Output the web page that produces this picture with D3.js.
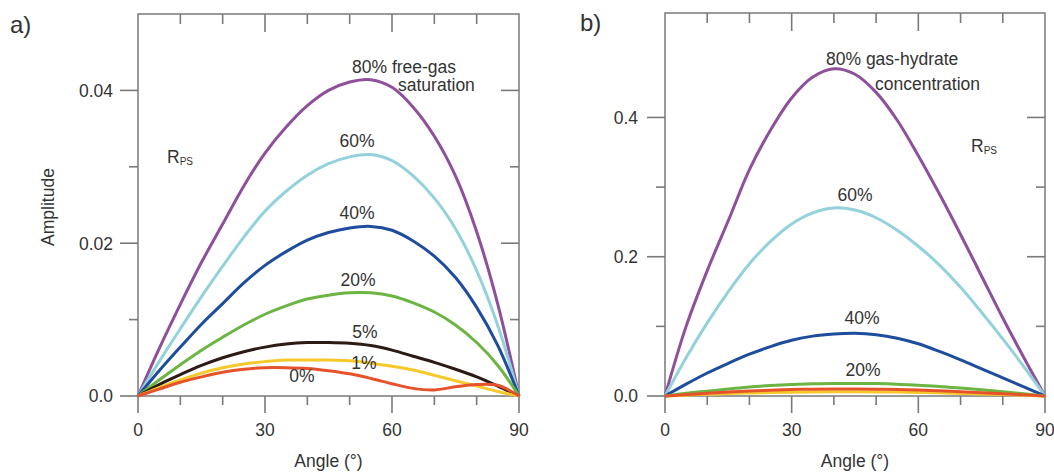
<!DOCTYPE html>
<html>
<head>
<meta charset="utf-8">
<script src="https://cdn.jsdelivr.net/npm/d3@7"></script>
<style>
  body { margin: 0; background: #fff; }
  text { font-family: "Liberation Sans", Arial, sans-serif; fill: #333; }
</style>
</head>
<body>
<svg id="chart" width="1054" height="474"></svg>
<script>
// angles (degrees) shared by all curves
const angles = [0, 5, 10, 15, 20, 25, 30, 35, 40, 45, 50, 55, 60, 65, 70, 75, 80, 85, 90];

// panel a: free-gas saturation
const gas80 = [0, 0.0062, 0.0120, 0.0175, 0.0225, 0.0275, 0.0318, 0.0352, 0.0380, 0.0400, 0.0411, 0.0414, 0.0404, 0.0378, 0.0340, 0.0288, 0.0215, 0.0120, 0];
const gas60 = [0, 0.0045, 0.0088, 0.0130, 0.0170, 0.0208, 0.0242, 0.0268, 0.0289, 0.0304, 0.0313, 0.0316, 0.0308, 0.0288, 0.0259, 0.0219, 0.0164, 0.0092, 0];
const gas40 = [0, 0.0033, 0.0064, 0.0094, 0.0121, 0.0148, 0.0171, 0.0189, 0.0204, 0.0214, 0.0220, 0.0222, 0.0217, 0.0203, 0.0183, 0.0155, 0.0116, 0.0066, 0];
const gas20 = [0, 0.0021, 0.0041, 0.0060, 0.0077, 0.0093, 0.0107, 0.0118, 0.0127, 0.0132, 0.0135, 0.0135, 0.0131, 0.0122, 0.0110, 0.0093, 0.0070, 0.0040, 0];
const gas5 = [0, 0.0015, 0.0028, 0.0040, 0.0050, 0.0058, 0.0064, 0.0068, 0.0070, 0.0070, 0.0069, 0.0066, 0.0060, 0.0052, 0.0044, 0.0035, 0.0025, 0.0013, 0];
const gas1 = [0, 0.0011, 0.0021, 0.0030, 0.0037, 0.0042, 0.0045, 0.0047, 0.0047, 0.0047, 0.0046, 0.0043, 0.0039, 0.0034, 0.0027, 0.0020, 0.0013, 0.0006, 0];
const gas0 = [0, 0.0009, 0.0018, 0.0025, 0.0031, 0.0035, 0.0037, 0.0037, 0.0036, 0.0033, 0.0029, 0.0023, 0.0016, 0.0010, 0.0008, 0.0012, 0.0015, 0.0014, 0];

// panel b: gas-hydrate concentration
const hyd80 = [0, 0.100, 0.180, 0.252, 0.325, 0.382, 0.428, 0.458, 0.470, 0.462, 0.436, 0.396, 0.345, 0.290, 0.232, 0.172, 0.112, 0.055, 0];
const hyd60 = [0, 0.055, 0.105, 0.150, 0.190, 0.222, 0.247, 0.263, 0.270, 0.267, 0.256, 0.238, 0.215, 0.188, 0.156, 0.120, 0.082, 0.042, 0];
const hyd40 = [0, 0.017, 0.033, 0.047, 0.060, 0.071, 0.080, 0.086, 0.089, 0.090, 0.088, 0.083, 0.075, 0.064, 0.052, 0.039, 0.026, 0.013, 0];
const hyd20 = [0, 0.004, 0.007, 0.010, 0.013, 0.015, 0.0165, 0.0175, 0.018, 0.018, 0.0178, 0.017, 0.0155, 0.0138, 0.0115, 0.009, 0.0062, 0.0032, 0];
const hyd5 = [0, 0.002, 0.004, 0.0058, 0.0072, 0.0084, 0.0093, 0.0098, 0.010, 0.010, 0.0098, 0.0093, 0.0085, 0.0075, 0.0062, 0.0048, 0.0033, 0.0017, 0];
const hyd1 = [0, 0.0012, 0.0024, 0.0035, 0.0043, 0.0050, 0.0055, 0.0058, 0.0060, 0.0060, 0.0059, 0.0056, 0.0051, 0.0045, 0.0037, 0.0029, 0.0020, 0.0010, 0];

const xTicks = [0, 30, 60, 90];
const xMinor = [10, 20, 40, 50, 70, 80];

const colors = {
  c80: "#8e4f9b", c60: "#93d2da", c40: "#1d4d9c", c20: "#6cb543",
  c5: "#2b1a16", c1: "#f6c92b", c0: "#e6532a"
};

const svg = d3.select("#chart");
const tickColor = "#7a7a7a";

// tick marks drawn from a scale; len is signed (which side of the axis line)
function tickMarks(g, scale, values, pos, len, horizontal) {
  values.forEach(v => {
    const p = scale(v);
    g.append("line")
      .attr("x1", horizontal ? p : pos)
      .attr("x2", horizontal ? p : pos + len)
      .attr("y1", horizontal ? pos : p)
      .attr("y2", horizontal ? pos + len : p)
      .attr("stroke", tickColor)
      .attr("stroke-width", 1.6);
  });
}

function panel(opt) {
  const g = svg.append("g");
  const x = d3.scaleLinear().domain([0, 90]).range([opt.left, opt.right]);
  const y = d3.scaleLinear().domain(opt.yDomain).range([opt.bottom, opt.top]);

  // frame
  g.append("rect")
    .attr("x", opt.left).attr("y", opt.top)
    .attr("width", opt.right - opt.left).attr("height", opt.bottom - opt.top)
    .attr("fill", "none").attr("stroke", tickColor).attr("stroke-width", 1.5);

  // bottom ticks (outward), top ticks (inward)
  tickMarks(g, x, xTicks, opt.bottom, 17, true);
  tickMarks(g, x, xMinor, opt.bottom, 9, true);
  tickMarks(g, x, xTicks.slice(1, 3), opt.top, 18, true);
  tickMarks(g, x, xMinor, opt.top, 10, true);
  // left ticks (outward), right ticks (inward)
  tickMarks(g, y, opt.yTicks, opt.left, -18, false);
  tickMarks(g, y, opt.yMinor, opt.left, -9, false);
  tickMarks(g, y, opt.yTicks.slice(1), opt.right, -18, false);
  tickMarks(g, y, opt.yMinor, opt.right, -9, false);

  g.selectAll(null).data(xTicks).enter().append("text")
    .attr("x", d => x(d)).attr("y", 436)
    .attr("text-anchor", "middle").attr("font-size", 17.5)
    .text(d3.format("d"));

  g.selectAll(null).data(opt.yTicks).enter().append("text")
    .attr("x", opt.left - opt.yPad).attr("y", d => y(d))
    .attr("dy", "0.36em")
    .attr("text-anchor", "end").attr("font-size", 17.5)
    .text(opt.yFormat);

  const line = d3.line()
    .x((d, i) => x(angles[i]))
    .y(d => y(d))
    .curve(d3.curveCatmullRom.alpha(0.5));

  opt.series.forEach(s => {
    g.append("path")
      .attr("d", line(s.values))
      .attr("fill", "none")
      .attr("stroke", s.color)
      .attr("stroke-width", 3)
      .attr("stroke-linejoin", "round");
  });

  // x title
  g.append("text")
    .attr("x", (opt.left + opt.right) / 2).attr("y", 467)
    .attr("text-anchor", "middle").attr("font-size", 17.5)
    .text("Angle (°)");
}

panel({
  left: 138, right: 519, top: 14, bottom: 396,
  yDomain: [0, 0.05], yTicks: [0, 0.02, 0.04], yMinor: [0.01, 0.03],
  yFormat: d => d === 0 ? "0.0" : d3.format(".2f")(d), yPad: 25,
  series: [
    { values: gas80, color: colors.c80 },
    { values: gas60, color: colors.c60 },
    { values: gas40, color: colors.c40 },
    { values: gas20, color: colors.c20 },
    { values: gas5, color: colors.c5 },
    { values: gas1, color: colors.c1 },
    { values: gas0, color: colors.c0 }
  ]
});

panel({
  left: 665, right: 1045, top: 13, bottom: 396,
  yDomain: [0, 0.55], yTicks: [0, 0.2, 0.4], yMinor: [0.1, 0.3],
  yFormat: d3.format(".1f"), yPad: 27,
  series: [
    { values: hyd80, color: colors.c80 },
    { values: hyd60, color: colors.c60 },
    { values: hyd40, color: colors.c40 },
    { values: hyd1, color: colors.c1 },
    { values: hyd20, color: colors.c20 },
    { values: hyd5, color: colors.c0 }
  ]
});

// y title (panel a only)
svg.append("text")
  .attr("transform", "translate(54,207) rotate(-90)")
  .attr("text-anchor", "middle").attr("font-size", 17.5)
  .text("Amplitude");

// panel letters
svg.append("text").attr("x", 10).attr("y", 33).attr("font-size", 24).text("a)");
svg.append("text").attr("x", 580).attr("y", 31).attr("font-size", 24).text("b)");

function label(x, y, txt, anchor) {
  svg.append("text").attr("x", x).attr("y", y)
    .attr("text-anchor", anchor || "start").attr("font-size", 17.5).text(txt);
}

function rps(x, y) {
  const t = svg.append("text").attr("x", x).attr("y", y).attr("font-size", 17.5);
  t.append("tspan").text("R");
  t.append("tspan").attr("font-size", 10).attr("dy", 2).text("PS");
}

// panel a labels
label(352, 73, "80% free-gas");
label(398, 91, "saturation");
label(357, 147, "60%", "middle");
label(357, 219, "40%", "middle");
label(358, 286, "20%", "middle");
label(365, 338, "5%", "middle");
label(364, 369, "1%", "middle");
label(302, 382, "0%", "middle");
rps(167, 163);

// panel b labels
label(826, 65, "80% gas-hydrate");
label(875, 90, "concentration");
label(855, 201, "60%", "middle");
label(862, 324, "40%", "middle");
label(863, 376, "20%", "middle");
rps(971, 152);
</script>
</body>
</html>
